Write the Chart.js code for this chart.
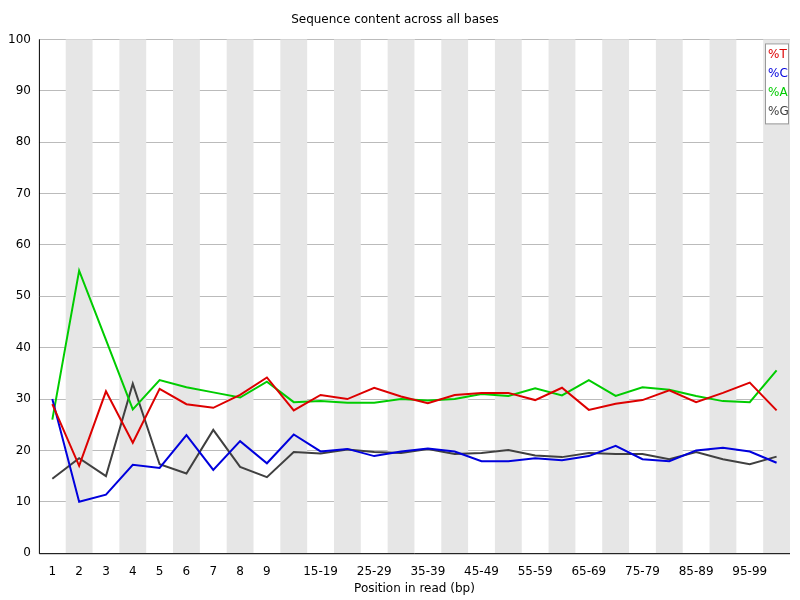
<!DOCTYPE html><html><head><script src="https://cdn.jsdelivr.net/npm/chart.js@4"></script>
<style>body{margin:0;background:#fff}</style></head><body><canvas id="c" width="800" height="600"></canvas>
<script>
const categories=["1","2","3","4","5","6","7","8","9","10-14","15-19","20-24","25-29","30-34","35-39","40-44","45-49","50-54","55-59","60-64","65-69","70-74","75-79","80-84","85-89","90-94","95-99","100-101"];
const tVals=[29,17,31.5,21.5,32,29,28.3,30.8,34.2,27.8,30.8,30,32.2,30.5,29.2,30.8,31.2,31.2,29.8,32.2,27.9,29.1,29.8,31.7,29.4,31.2,33.2,27.8];
const cVals=[30,10,11.4,17.2,16.6,23,16.2,21.8,17.5,23.1,19.8,20.3,18.9,19.8,20.4,19.8,17.9,17.9,18.5,18.1,18.9,20.9,18.3,17.9,20,20.5,19.8,17.6];
const aVals=[26,55,41.5,28,33.7,32.3,31.3,30.3,33.4,29.4,29.6,29.3,29.3,30,29.7,30,31,30.6,32.1,30.7,33.7,30.6,32.3,31.8,30.6,29.6,29.4,35.6];
const gVals=[14.5,18.5,15,33,17.3,15.5,24,16.8,14.8,19.7,19.4,20.2,19.7,19.5,20.3,19.3,19.5,20.1,19,18.7,19.5,19.3,19.3,18.3,19.7,18.3,17.3,18.8];
const names=["%T","%C","%A","%G"];
const colors=["#dd0000","#0000dd","#00cc00","#404040"];
const F="DejaVu Sans";
const bands={id:'bands',beforeDatasetsDraw(ch){const {ctx,chartArea:a,scales:{x}}=ch;const w=x.getPixelForValue(1)-x.getPixelForValue(0);ctx.save();ctx.fillStyle='#e6e6e6';for(let i=1;i<categories.length;i+=2){const c=x.getPixelForValue(i);ctx.fillRect(c-w/2,a.top,w,a.bottom-a.top);}ctx.restore();},
afterDraw(ch){const {ctx,chartArea:a}=ch;ctx.save();ctx.strokeStyle='#000';ctx.lineWidth=1;ctx.beginPath();ctx.moveTo(a.left+0.5,a.top);ctx.lineTo(a.left+0.5,a.bottom+0.5);ctx.lineTo(a.right,a.bottom+0.5);ctx.stroke();
const lx=a.right-25,ly=a.top+4;ctx.fillStyle='#fff';ctx.fillRect(lx,ly,23,80);ctx.strokeStyle='#999';ctx.strokeRect(lx+0.5,ly+0.5,23,80);ctx.font='12px '+F;ctx.textBaseline='middle';names.forEach((n,i)=>{ctx.fillStyle=colors[i];ctx.fillText(n,lx+3,ly+11+i*19);});ctx.restore();}};
new Chart(document.getElementById('c'),{type:'line',data:{labels:categories,datasets:[tVals,cVals,aVals,gVals].map((d,i)=>({label:names[i],data:d,borderColor:colors[i],borderWidth:2,pointRadius:0,tension:0}))},
options:{responsive:false,animation:false,devicePixelRatio:1,layout:{padding:{top:5,right:10,left:0,bottom:0}},
plugins:{legend:{display:false},tooltip:{enabled:false},title:{display:true,text:'Sequence content across all bases',color:'#000',font:{family:F,size:12,weight:'normal'},padding:{top:8,bottom:12}}},
scales:{x:{offset:true,grid:{display:false},border:{display:false},ticks:{color:'#000',font:{family:F,size:12},maxRotation:0,autoSkip:false,callback:(v,i)=>(i<9||(i%2==0&&i<27))?categories[i]:''},title:{display:true,text:'Position in read (bp)',color:'#000',font:{family:F,size:12},padding:{top:0}}},
y:{min:0,max:100,grid:{color:'#bbb',drawTicks:false},border:{display:false},ticks:{stepSize:10,color:'#000',font:{family:F,size:12},padding:8}}}},plugins:[bands]});
</script></body></html>
